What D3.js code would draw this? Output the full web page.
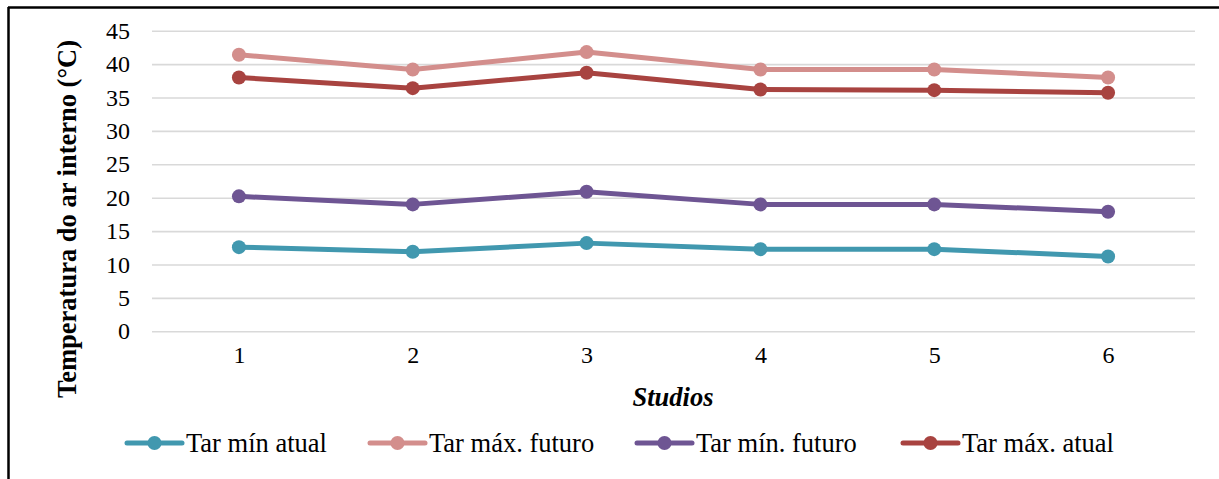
<!DOCTYPE html>
<html>
<head>
<meta charset="utf-8">
<script src="https://cdn.jsdelivr.net/npm/d3@7/dist/d3.min.js"></script>
<style>
  html, body { margin: 0; padding: 0; background: #fff; }
  svg { display: block; }
  text { font-family: "Liberation Serif", "Times New Roman", serif; fill: #000; }
</style>
</head>
<body>
<svg id="chart" width="1219" height="479"></svg>
<script>
// Studios on the x axis
const studios = [1, 2, 3, 4, 5, 6];
// Internal air temperature (°C) per studio
const tarMinAtual   = [12.6, 11.9, 13.2, 12.3, 12.3, 11.2];
const tarMaxFuturo  = [41.4, 39.2, 41.8, 39.2, 39.2, 38.0];
const tarMinFuturo  = [20.2, 19.0, 20.9, 19.0, 19.0, 17.9];
const tarMaxAtual   = [38.0, 36.4, 38.7, 36.2, 36.1, 35.7];
const yTicks = [0, 5, 10, 15, 20, 25, 30, 35, 40, 45];
const seriesNames = ["Tar mín atual", "Tar máx. futuro", "Tar mín. futuro", "Tar máx. atual"];
const seriesColors = ["#4198AF", "#D38E8C", "#6E5593", "#A84340"];

const series = [
  { name: seriesNames[0], values: tarMinAtual,  color: seriesColors[0] },
  { name: seriesNames[1], values: tarMaxFuturo, color: seriesColors[1] },
  { name: seriesNames[2], values: tarMinFuturo, color: seriesColors[2] },
  { name: seriesNames[3], values: tarMaxAtual,  color: seriesColors[3] }
];

const serif = "'Liberation Serif', 'Times New Roman', serif";
const svg = d3.select("#chart");

// Frame (top and left edges)
svg.append("line").attr("x1", 8).attr("x2", 1219).attr("y1", 7.5).attr("y2", 7.5)
  .attr("stroke", "#000").attr("stroke-width", 2.5);
svg.append("line").attr("x1", 8.5).attr("x2", 8.5).attr("y1", 7).attr("y2", 479)
  .attr("stroke", "#000").attr("stroke-width", 2.5);

const x = d3.scalePoint().domain(studios).range([152, 1195]).padding(0.5);
const y = d3.scaleLinear().domain([0, 45]).range([331.3, 30.7]);

// Horizontal gridlines and value labels
const yAxis = d3.axisLeft(y).tickValues(yTicks).tickSize(-(1195 - 152)).tickPadding(22);
const gy = svg.append("g").attr("transform", "translate(152,0)").call(yAxis);
gy.attr("font-family", serif).attr("font-size", 24);
gy.select(".domain").remove();
gy.selectAll(".tick line").attr("stroke", "#d9d9d9").attr("stroke-width", 1.6);
gy.selectAll(".tick text").style("font-family", serif).style("font-size", "24px").attr("fill", "#000");

// Category axis labels
const xAxis = d3.axisBottom(x).tickSize(0).tickPadding(15);
const gx = svg.append("g").attr("transform", "translate(0,331.3)").call(xAxis);
gx.attr("font-family", serif).attr("font-size", 24);
gx.select(".domain").remove();
gx.selectAll(".tick text").style("font-family", serif).style("font-size", "24px").attr("fill", "#000");

// Lines and markers
const line = d3.line().x((d, i) => x(studios[i])).y(d => y(d));
const gs = svg.append("g");
series.forEach(s => {
  gs.append("path").attr("d", line(s.values))
    .attr("fill", "none").attr("stroke", s.color).attr("stroke-width", 5)
    .attr("stroke-linejoin", "round").attr("stroke-linecap", "round");
  gs.selectAll(null).data(s.values).enter().append("circle")
    .attr("cx", (d, i) => x(studios[i])).attr("cy", d => y(d))
    .attr("r", 7).attr("fill", s.color);
});

// Axis titles
svg.append("text")
  .attr("transform", "translate(76,219) rotate(-90)")
  .attr("text-anchor", "middle")
  .attr("font-size", 26.5).attr("font-weight", "bold")
  .text("Temperatura do ar interno (°C)");

svg.append("text")
  .attr("x", 673).attr("y", 406)
  .attr("text-anchor", "middle")
  .attr("font-size", 26.5).attr("font-weight", "bold").attr("font-style", "italic")
  .text("Studios");

// Legend
const legendX = [127, 370, 637, 903];
const legend = svg.append("g");
series.forEach((s, i) => {
  const g = legend.append("g").attr("transform", `translate(${legendX[i]},443)`);
  g.append("line").attr("x1", 0).attr("x2", 55).attr("y1", 0).attr("y2", 0)
    .attr("stroke", s.color).attr("stroke-width", 5).attr("stroke-linecap", "round");
  g.append("circle").attr("cx", 27.5).attr("cy", 0).attr("r", 7).attr("fill", s.color);
  g.append("text").attr("x", 59).attr("y", 9).attr("font-size", 26.5).text(s.name);
});
</script>
</body>
</html>
